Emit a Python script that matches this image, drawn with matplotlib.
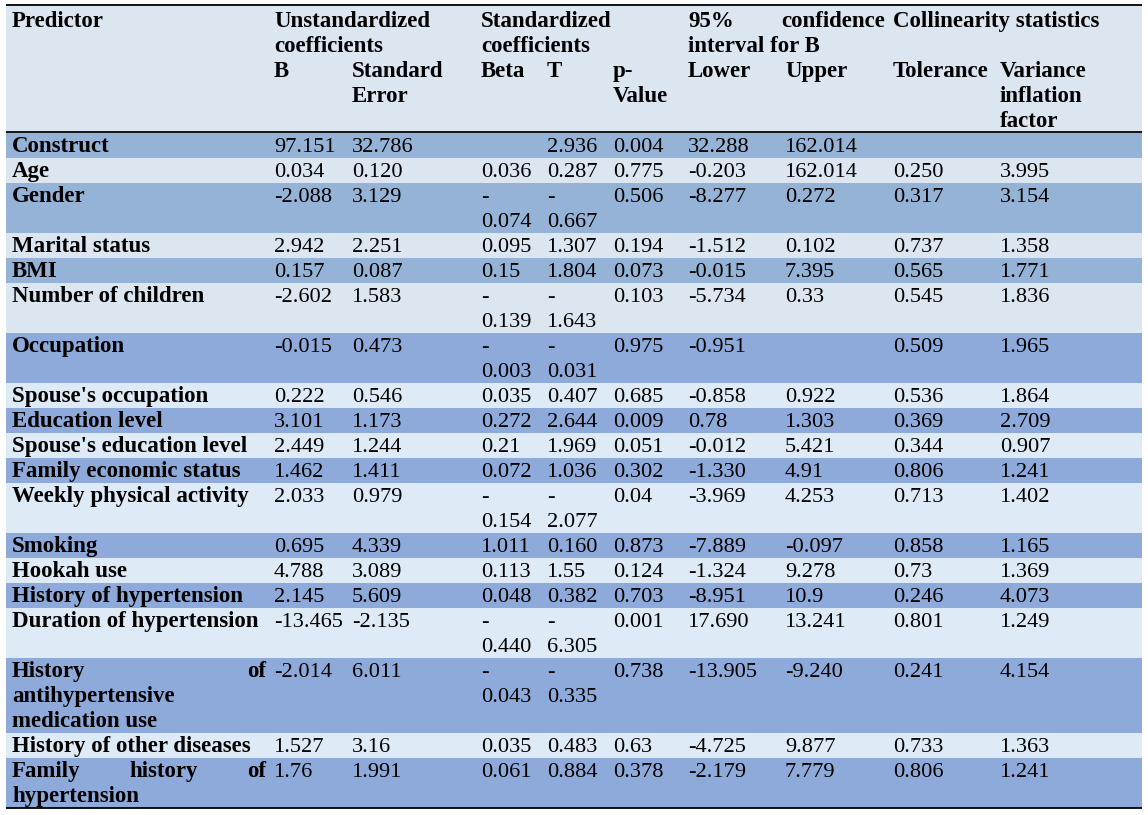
import matplotlib
matplotlib.use("Agg")
import matplotlib.pyplot as plt
from matplotlib.patches import Rectangle

# ---------------- data ----------------
predictors = ["Construct", "Age", "Gender", "Marital status", "BMI", "Number of children",
              "Occupation", "Spouse's occupation", "Education level", "Spouse's education level",
              "Family economic status", "Weekly physical activity", "Smoking", "Hookah use",
              "History of hypertension", "Duration of hypertension",
              "History of antihypertensive medication use", "History of other diseases",
              "Family history of hypertension"]
b_vals = ["97.151", "0.034", "-2.088", "2.942", "0.157", "-2.602", "-0.015", "0.222", "3.101", "2.449",
          "1.462", "2.033", "0.695", "4.788", "2.145", "-13.465", "-2.014", "1.527", "1.76"]
se_vals = ["32.786", "0.120", "3.129", "2.251", "0.087", "1.583", "0.473", "0.546", "1.173", "1.244",
           "1.411", "0.979", "4.339", "3.089", "5.609", "-2.135", "6.011", "3.16", "1.991"]
beta_vals = ["", "0.036", "-0.074", "0.095", "0.15", "-0.139", "-0.003", "0.035", "0.272", "0.21",
             "0.072", "-0.154", "1.011", "0.113", "0.048", "-0.440", "-0.043", "0.035", "0.061"]
t_vals = ["2.936", "0.287", "-0.667", "1.307", "1.804", "-1.643", "-0.031", "0.407", "2.644", "1.969",
          "1.036", "-2.077", "0.160", "1.55", "0.382", "-6.305", "-0.335", "0.483", "0.884"]
p_vals = ["0.004", "0.775", "0.506", "0.194", "0.073", "0.103", "0.975", "0.685", "0.009", "0.051",
          "0.302", "0.04", "0.873", "0.124", "0.703", "0.001", "0.738", "0.63", "0.378"]
lower_vals = ["32.288", "-0.203", "-8.277", "-1.512", "-0.015", "-5.734", "-0.951", "-0.858", "0.78",
              "-0.012", "-1.330", "-3.969", "-7.889", "-1.324", "-8.951", "17.690", "-13.905",
              "-4.725", "-2.179"]
upper_vals = ["162.014", "162.014", "0.272", "0.102", "7.395", "0.33", "", "0.922", "1.303", "5.421",
              "4.91", "4.253", "-0.097", "9.278", "10.9", "13.241", "-9.240", "9.877", "7.779"]
tolerance_vals = ["", "0.250", "0.317", "0.737", "0.565", "0.545", "0.509", "0.536", "0.369", "0.344",
                  "0.806", "0.713", "0.858", "0.73", "0.246", "0.801", "0.241", "0.733", "0.806"]
vif_vals = ["", "3.995", "3.154", "1.358", "1.771", "1.836", "1.965", "1.864", "2.709", "0.907",
            "1.241", "1.402", "1.165", "1.369", "4.073", "1.249", "4.154", "1.363", "1.241"]

# ---------------- layout / style ----------------
W, H = 1148, 815
FONT = "Liberation Serif"
LINE = 25.0
TOP = 5.0
HEAD_BOTTOM = 131.0
BODY_TOP = 133.0
LEFT, RIGHT = 6.0, 1142.0
COL1_RIGHT = 266.0

col_x = {"pred": 12, "b": 274, "se": 352, "beta": 481, "t": 547, "p": 613,
         "lower": 688, "upper": 785, "tol": 893, "vif": 1000}

dark_early, dark_late = "#95b3d7", "#8eaadb"
light_early, light_late = "#dce6f1", "#deeaf6"
header_bg = "#dce6f1"

fig = plt.figure(figsize=(W / 100, H / 100), dpi=100)
fig.patch.set_facecolor("white")
ax = fig.add_axes([0, 0, 1, 1])
ax.set_xlim(0, W)
ax.set_ylim(H, 0)
ax.axis("off")
renderer = fig.canvas.get_renderer()


def text_width(s, size, weight):
    t = ax.text(0, 0, s, fontsize=size, fontweight=weight, family=FONT)
    bb = t.get_window_extent(renderer=renderer)
    t.remove()
    return bb.width


# fit font sizes to measured widths in the reference
REG = 16.0 * 73.0 / text_width("162.014", 16.0, "normal")
BOLD = 16.0 * 247.0 / text_width("Duration of hypertension", 16.0, "bold")


def put(x, y, s, bold=False, ha="left"):
    ax.text(x, y, s, fontsize=BOLD if bold else REG, fontweight="bold" if bold else "normal",
            family=FONT, ha=ha, va="baseline", color="black")


def justify(x0, x1, y, words, bold=True):
    size = BOLD if bold else REG
    wts = [text_width(w, size, "bold" if bold else "normal") for w in words]
    gap = (x1 - x0 - sum(wts)) / (len(words) - 1)
    x = x0
    for w, wd in zip(words, wts):
        put(x, y, w, bold=bold)
        x += wd + gap


def wrap_label(s, width):
    words = s.split()
    lines, cur = [], []
    for w in words:
        trial = " ".join(cur + [w])
        if cur and text_width(trial, BOLD, "bold") > width:
            lines.append(cur)
            cur = [w]
        else:
            cur.append(w)
    lines.append(cur)
    return lines


def split_neg(v):
    # narrow columns break negative numbers after the minus sign
    if v.startswith("-") and len(v) > 1:
        return ["-", v[1:]]
    return [v] if v else []


# ---------------- header ----------------
ax.add_patch(Rectangle((LEFT, TOP), RIGHT - LEFT, HEAD_BOTTOM - TOP, facecolor=header_bg, edgecolor="none"))
hb = [27, 52, 77, 102, 127]
put(col_x["pred"], hb[0], "Predictor", True)
put(col_x["b"], hb[0], "Unstandardized", True)
put(col_x["b"], hb[1], "coefficients", True)
put(col_x["b"], hb[2], "B", True)
put(col_x["se"], hb[2], "Standard", True)
put(col_x["se"], hb[3], "Error", True)
put(col_x["beta"], hb[0], "Standardized", True)
put(col_x["beta"], hb[1], "coefficients", True)
put(col_x["beta"], hb[2], "Beta", True)
put(col_x["t"], hb[2], "T", True)
put(col_x["p"], hb[2], "p-", True)
put(col_x["p"], hb[3], "Value", True)
justify(col_x["lower"], 885, hb[0], ["95%", "confidence"])
put(col_x["lower"], hb[1], "interval for B", True)
put(col_x["lower"], hb[2], "Lower", True)
put(col_x["upper"], hb[2], "Upper", True)
put(893, hb[0], "Collinearity statistics", True)
put(col_x["tol"], hb[2], "Tolerance", True)
put(col_x["vif"], hb[2], "Variance", True)
put(col_x["vif"], hb[3], "inflation", True)
put(col_x["vif"], hb[4], "factor", True)

# ---------------- body ----------------
y = BODY_TOP
n = len(predictors)
for i in range(n):
    label_lines = wrap_label(predictors[i], COL1_RIGHT - col_x["pred"])
    cells = {
        "b": [b_vals[i]] if b_vals[i] else [],
        "se": [se_vals[i]] if se_vals[i] else [],
        "beta": split_neg(beta_vals[i]),
        "t": split_neg(t_vals[i]),
        "p": [p_vals[i]] if p_vals[i] else [],
        "lower": [lower_vals[i]] if lower_vals[i] else [],
        "upper": [upper_vals[i]] if upper_vals[i] else [],
        "tol": [tolerance_vals[i]] if tolerance_vals[i] else [],
        "vif": [vif_vals[i]] if vif_vals[i] else [],
    }
    nlines = max([len(label_lines)] + [len(c) for c in cells.values()])
    h = nlines * LINE
    if i % 2 == 0:
        color = dark_early if i < 6 else dark_late
    else:
        color = light_early if i < 6 else light_late
    ax.add_patch(Rectangle((LEFT, y), RIGHT - LEFT, h, facecolor=color, edgecolor="none"))
    base = y + 19
    for k, words in enumerate(label_lines):
        if k < len(label_lines) - 1 and len(words) > 1:
            justify(col_x["pred"], COL1_RIGHT, base + k * LINE, words)
        else:
            put(col_x["pred"], base + k * LINE, " ".join(words), True)
    for key, vals in cells.items():
        for k, v in enumerate(vals):
            put(col_x[key], base + k * LINE, v)
    y += h

# ---------------- rules ----------------
ax.plot([LEFT, RIGHT], [TOP, TOP], color="black", lw=1.3, solid_capstyle="butt")
ax.plot([LEFT, RIGHT], [HEAD_BOTTOM + 1, HEAD_BOTTOM + 1], color="black", lw=1.3, solid_capstyle="butt")
ax.plot([LEFT, RIGHT], [y, y], color="black", lw=1.3, solid_capstyle="butt")

fig.savefig("out.png", dpi=100, facecolor="white")
